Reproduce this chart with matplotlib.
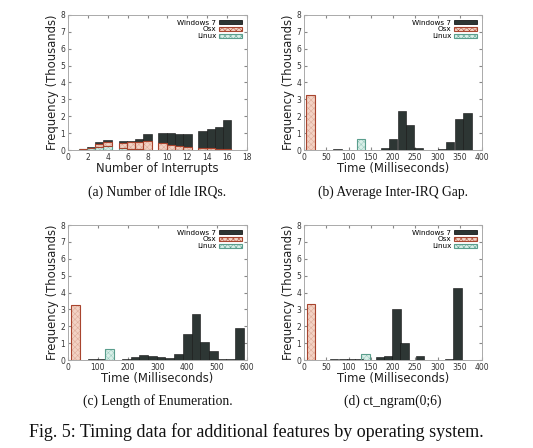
import matplotlib
matplotlib.use("Agg")
import matplotlib.pyplot as plt
from matplotlib.patches import Patch
import numpy as np

# ---------------- data ----------------
# (a) Number of Idle IRQs: stacked counts (thousands) for interrupt counts 1..16
idle_counts = list(range(1, 17))
idle_linux = [0.04, 0.12, 0.20, 0.22, 0.10, 0.05, 0.03, 0.02, 0, 0, 0, 0, 0, 0, 0, 0]
idle_osx = [0.00, 0.02, 0.18, 0.23, 0.30, 0.40, 0.47, 0.50, 0.42, 0.30, 0.22, 0.15, 0.12, 0.10, 0.05, 0.03]
idle_win = [0.01, 0.03, 0.09, 0.14, 0.11, 0.10, 0.15, 0.41, 0.58, 0.69, 0.75, 0.82, 1.02, 1.14, 1.31, 1.73]

# (b) Average Inter-IRQ Gap
gap_osx_x, gap_osx_y = [15], [3.25]
gap_lin_x, gap_lin_y = [128], [0.65]
gap_win_x = [75, 183, 200, 220, 238, 257, 310, 328, 348, 367]
gap_win_y = [0.05, 0.12, 0.65, 2.30, 1.46, 0.12, 0.04, 0.47, 1.83, 2.20]

# (c) Length of Enumeration
enum_osx_x, enum_osx_y = [26], [3.25]
enum_lin_x, enum_lin_y = [140], [0.67]
enum_win_x = [83, 111, 168, 196, 225, 254, 283, 312, 341, 370, 400, 429, 458, 487, 516, 545, 575]
enum_win_y = [0.03, 0.08, 0.02, 0.08, 0.20, 0.32, 0.25, 0.20, 0.12, 0.35, 1.57, 2.70, 1.05, 0.52, 0.08, 0.04, 1.90]

# (d) ct_ngram(0;6)
ng_osx_x, ng_osx_y = [15], [3.30]
ng_lin_x, ng_lin_y = [138], [0.38]
ng_win_x = [68, 87, 106, 124, 172, 190, 208, 226, 242, 260, 278, 327, 345]
ng_win_y = [0.03, 0.03, 0.03, 0.03, 0.20, 0.25, 3.05, 1.00, 0.02, 0.25, 0.02, 0.08, 4.25]

series_names = ["Windows 7", "Osx", "Linux"]
captions = ["(a) Number of Idle IRQs.", "(b) Average Inter-IRQ Gap.",
            "(c) Length of Enumeration.", "(d) ct_ngram(0;6)"]
fig_caption = "Fig. 5: Timing data for additional features by operating system."

# ---------------- style ----------------
WIN_FC = "#2d3634"
OSX_FC = "#f3d2c4"
OSX_HATCH = "#dca896"
OSX_EC = "#a8442e"
LIN_FC = "#d9efe8"
LIN_HATCH = "#98cabd"
LIN_EC = "#5a9e8d"

plt.rcParams['font.family'] = ['DejaVu Sans']
plt.rcParams['hatch.linewidth'] = 0.35

fig = plt.figure(figsize=(5.33, 4.48), dpi=100)
W, H = 533, 448


def ax_at(l, t, r, b):
    return fig.add_axes([l / W, 1 - b / H, (r - l) / W, (b - t) / H])


def hatched_bar(ax, x, h, w, fc, hc, ec, bottom=None, hatch='xxxxxx'):
    if bottom is None:
        bottom = np.zeros(len(x))
    plt.rcParams['hatch.color'] = hc
    ax.bar(x, h, w, bottom=bottom, color=fc, edgecolor=hc, hatch=hatch, linewidth=0, zorder=2)
    ax.bar(x, h, w, bottom=bottom, fill=False, edgecolor=ec, linewidth=0.8, zorder=3)


def style_axes(ax, xlim, xticks, xlabel):
    ax.set_xlim(*xlim)
    ax.set_ylim(0, 8)
    ax.set_xticks(xticks)
    ax.set_yticks(range(0, 9))
    ax.tick_params(direction='in', top=True, right=True, labelsize=5.5, length=2.5,
                   color='#888888', labelcolor='#333333', pad=2)
    for s in ax.spines.values():
        s.set_color('#aaaaaa')
        s.set_linewidth(0.7)
    ax.set_xlabel(xlabel, fontsize=8.4, labelpad=0.3, color='#222222')
    ax.set_ylabel("Frequency (Thousands)", fontsize=8.4, labelpad=0.8, color='#222222')
    handles = [Patch(facecolor=WIN_FC, edgecolor='black', linewidth=0.5),
               Patch(facecolor=OSX_FC, edgecolor=OSX_EC, hatch='xxxxxx', linewidth=0.8),
               Patch(facecolor=LIN_FC, edgecolor=LIN_EC, hatch='xxxxxx', linewidth=0.8)]
    ax.legend(handles, series_names, loc='upper right', markerfirst=False, frameon=False,
              fontsize=5.2, handlelength=3.2, handleheight=0.45, labelspacing=0.1,
              borderaxespad=0.25, handletextpad=0.4)


def plot_single(ax, osx_x, osx_y, lin_x, lin_y, win_x, win_y, w):
    hatched_bar(ax, osx_x, osx_y, w, OSX_FC, OSX_HATCH, OSX_EC)
    hatched_bar(ax, lin_x, lin_y, w, LIN_FC, LIN_HATCH, LIN_EC)
    ax.bar(win_x, win_y, w, color=WIN_FC, edgecolor='#111111', linewidth=0.4, zorder=2)


# (a)
axA = ax_at(68, 15, 247, 150)
bw = 0.83
idx = np.array(idle_counts) - 1
pos = 1.06 + 4.02 * (idx // 4) + bw * ((idx % 4) + 0.5)
lin = np.array(idle_linux)
osx = np.array(idle_osx)
win = np.array(idle_win)
hatched_bar(axA, pos, lin, bw, LIN_FC, LIN_HATCH, LIN_EC)
hatched_bar(axA, pos, osx, bw, OSX_FC, OSX_HATCH, OSX_EC, bottom=lin)
axA.bar(pos, win, bw, bottom=lin + osx, color=WIN_FC, edgecolor='#111111', linewidth=0.4, zorder=2)
style_axes(axA, (0, 18), range(0, 19, 2), "Number of Interrupts")

# (b)
axB = ax_at(304, 15, 482, 150)
plot_single(axB, gap_osx_x, gap_osx_y, gap_lin_x, gap_lin_y, gap_win_x, gap_win_y, 19)
style_axes(axB, (0, 400), range(0, 401, 50), "Time (Milliseconds)")

# (c)
axC = ax_at(68, 225, 247, 360)
plot_single(axC, enum_osx_x, enum_osx_y, enum_lin_x, enum_lin_y, enum_win_x, enum_win_y, 29)
style_axes(axC, (0, 600), range(0, 601, 100), "Time (Milliseconds)")

# (d)
axD = ax_at(304, 225, 482, 360)
plot_single(axD, ng_osx_x, ng_osx_y, ng_lin_x, ng_lin_y, ng_win_x, ng_win_y, 18.5)
style_axes(axD, (0, 400), range(0, 401, 50), "Time (Milliseconds)")

serif = ['Liberation Serif', 'DejaVu Serif']
for ax, cap, y in zip([axA, axB, axC, axD], captions, [192, 192, 401, 401]):
    bb = ax.get_position()
    fig.text(bb.x0 + bb.width / 2, 1 - y / H, cap, ha='center', va='center',
             fontsize=9.8, family=serif, color='#111111')
fig.text(256 / W, 1 - 432 / H, fig_caption, ha='center', va='center',
         fontsize=13, family=serif, color='#111111')

fig.savefig("out.png", dpi=100)
